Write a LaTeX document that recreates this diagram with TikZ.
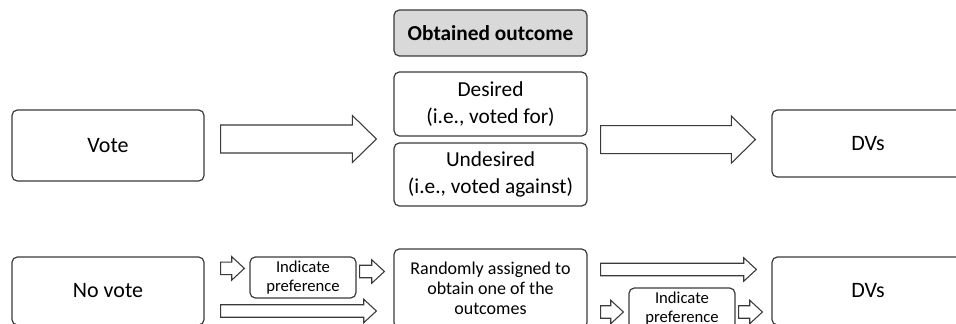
\documentclass[tikz,border=0pt]{standalone}
\usepackage{fontspec}
\setmainfont{Carlito}
\usetikzlibrary{calc}
\definecolor{boxline}{HTML}{3A3A3A}
\definecolor{headfill}{HTML}{D9D9D9}
\tikzset{
  box/.style={draw=boxline, line width=0.9pt, rounded corners=4pt, inner sep=0pt, align=center},
  bigtext/.style={font=\fontsize{16.5pt}{20pt}\selectfont},
  midtext/.style={font=\fontsize{16pt}{20.5pt}\selectfont},
  smalltext/.style={font=\fontsize{13.5pt}{15pt}\selectfont},
  preftext/.style={font=\fontsize{12.5pt}{14.25pt}\selectfont},
  blockarrow/.style={draw=boxline, line width=0.8pt, fill=white, line join=miter}
}
% hollow block arrow: start, tip, shaft half width, head half width, head length
\newcommand{\blockarrow}[5]{%
  \draw[blockarrow] let \p1=(#1), \p2=(#2) in
    (\x1,\y1+#3) -- (\x2-#5,\y1+#3) -- (\x2-#5,\y1+#4) -- (\x2,\y1)
    -- (\x2-#5,\y1-#4) -- (\x2-#5,\y1-#3) -- (\x1,\y1-#3) -- cycle;}
\newcommand{\bigarrow}[2]{\blockarrow{#1}{#2}{10.5pt}{17.6pt}{18pt}}
\newcommand{\smallarrow}[2]{\blockarrow{#1}{#2}{4.7pt}{8.8pt}{9.5pt}}
\begin{document}
\begin{tikzpicture}[x=0.75pt, y=-0.75pt]
  \path[use as bounding box, clip] (0,0) rectangle (956,324);
  % left column
  \node[box, bigtext, minimum width=144pt, minimum height=53.25pt] (vote) at (108,145.5) {Vote};
  \node[box, bigtext, minimum width=144pt, minimum height=51pt] (novote) at (108,291) {No vote};
  % outcome column
  \node[box, midtext, fill=headfill, minimum width=144.75pt, minimum height=34.5pt] (outcome) at (490.5,33) {\textbf{Obtained outcome}};
  \node[box, midtext, minimum width=144.75pt, minimum height=48pt] (desired) at (490.5,104) {Desired\\(i.e., voted for)};
  \node[box, midtext, minimum width=144.75pt, minimum height=47.25pt] (undesired) at (490.5,174.5) {Undesired\\(i.e., voted against)};
  \node[box, smalltext, minimum width=144.75pt, minimum height=59.25pt] (random) at (490.5,288.5) {Randomly assigned to\\obtain one of the\\outcomes};
  % preference boxes
  \node[box, preftext, minimum width=79.5pt, minimum height=30.75pt] (prefA) at (303,277.5) {Indicate\\preference};
  \node[box, preftext, minimum width=79.5pt, minimum height=30.75pt] (prefB) at (682,308.5) {Indicate\\preference};
  % right column
  \node[box, bigtext, minimum width=144pt, minimum height=50.25pt] (dvs) at (868,143.5) {DVs};
  \node[box, bigtext, minimum width=144pt, minimum height=51pt] (dvslow) at (868,291) {DVs};
  % arrow ends
  \coordinate (a1s) at ($(vote.east)+(16,-6.5)$);
  \coordinate (a1e) at ($(desired.south west)+(-17,3)$);
  \coordinate (a2s) at ($(desired.south east)+(13,3)$);
  \coordinate (a2e) at ($(dvs.west)+(-16,-4.5)$);
  \coordinate (a3s) at ($(novote.north east)+(16,12)$);
  \coordinate (a3e) at ($(prefA.west)+(-5,-8.5)$);
  \coordinate (a4s) at ($(prefA.east)+(3,-6)$);
  \coordinate (a4e) at ($(random.west)+(-9,-17)$);
  \coordinate (a5s) at ($(novote.east)+(16,20)$);
  \coordinate (a5e) at ($(random.west)+(-17,22.5)$);
  \coordinate (a6s) at ($(random.east)+(13,-19)$);
  \coordinate (a6e) at ($(dvslow.west)+(-15,-21.5)$);
  \coordinate (a7s) at ($(random.east)+(13,23.5)$);
  \coordinate (a7e) at ($(prefB.west)+(-5,3.5)$);
  \coordinate (a8s) at ($(prefB.east)+(3,3.5)$);
  \coordinate (a8e) at ($(dvslow.west)+(-9,21)$);
  \bigarrow{a1s}{a1e}
  \bigarrow{a2s}{a2e}
  \smallarrow{a3s}{a3e}
  \smallarrow{a4s}{a4e}
  \smallarrow{a5s}{a5e}
  \smallarrow{a6s}{a6e}
  \smallarrow{a7s}{a7e}
  \smallarrow{a8s}{a8e}
\end{tikzpicture}
\end{document}
